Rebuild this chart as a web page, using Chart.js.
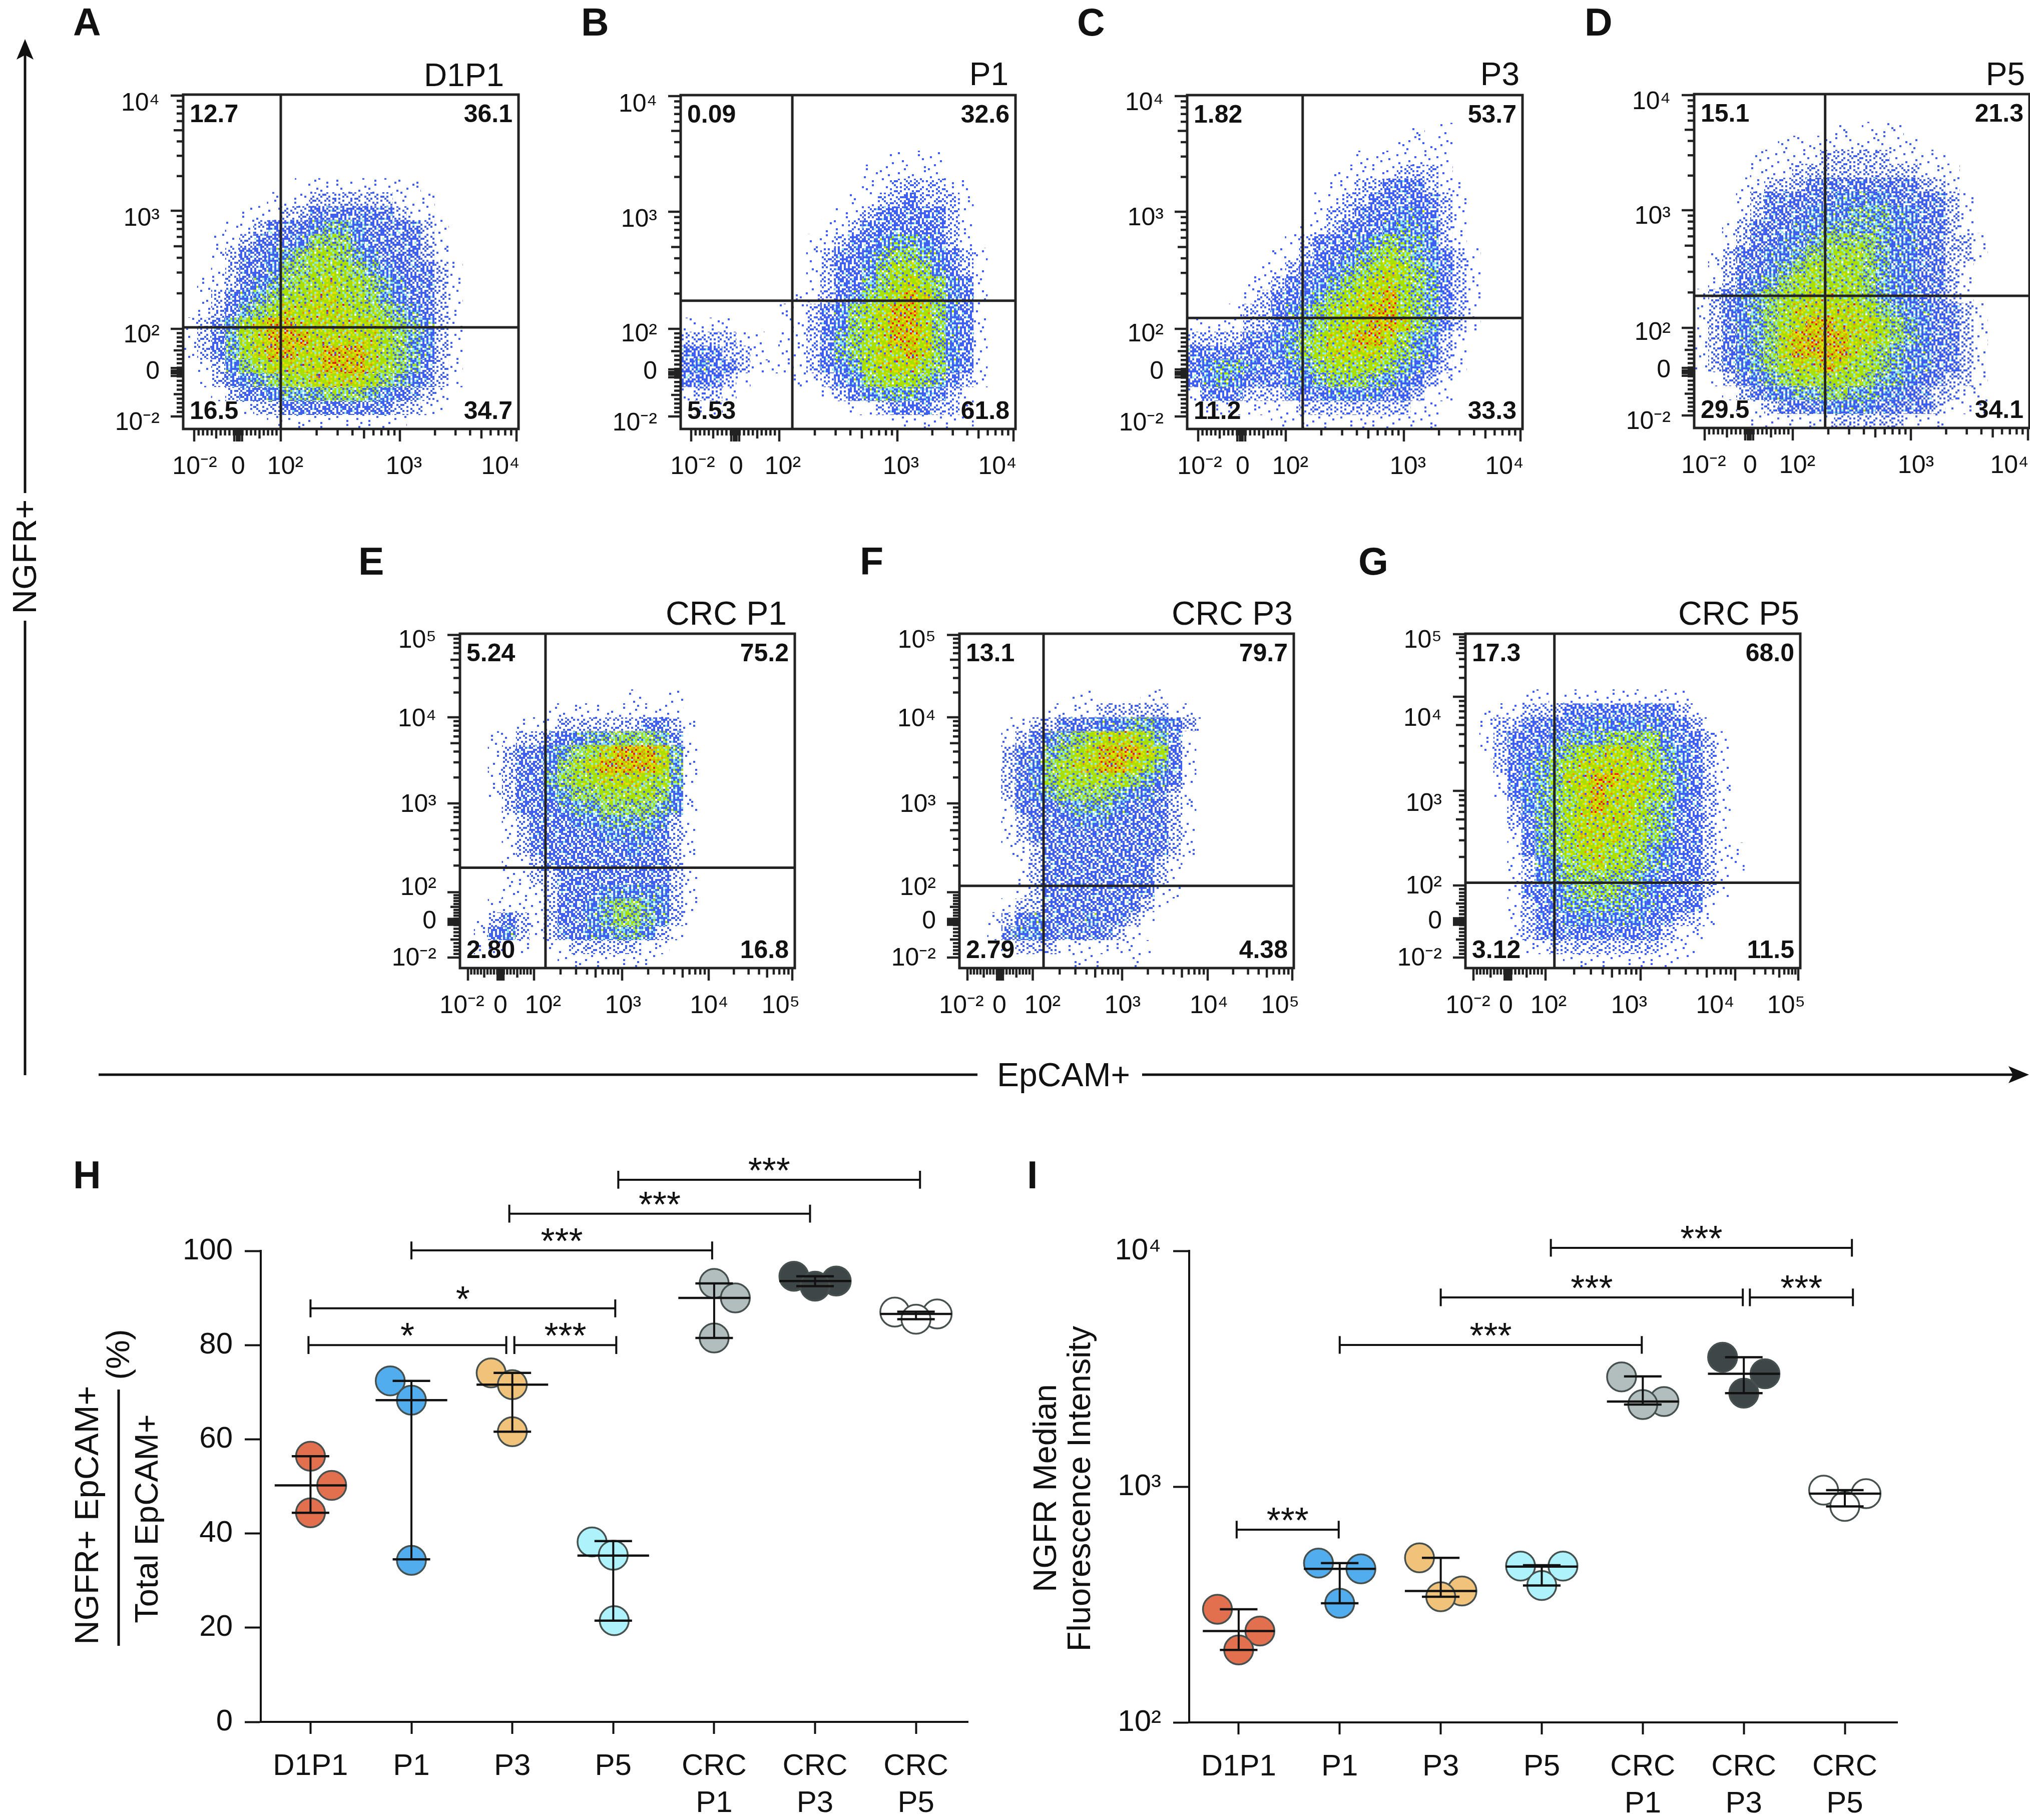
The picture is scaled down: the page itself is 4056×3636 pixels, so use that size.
<!DOCTYPE html>
<html>
<head>
<meta charset="utf-8">
<title>NGFR and EpCAM flow panels</title>
<script src="https://cdn.jsdelivr.net/npm/chart.js@4"></script>
<style>
html, body { margin: 0; background: #fff; width: 4056px; height: 3636px; overflow: hidden; }
canvas { position: absolute; }
svg { position: absolute; left: 0; top: 0; z-index: 5; font-family: "Liberation Sans", Arial, sans-serif; fill: #111; }
</style>
</head>
<body>
<svg id="notes" width="4056" height="3636"></svg>
<script>
// ---- flow panels: names, quadrant percentages (UL, UR, LL, LR), gates
const flowLetters = ["A", "B", "C", "D", "E", "F", "G"];
const flowTitles = ["D1P1", "P1", "P3", "P5", "CRC P1", "CRC P3", "CRC P5"];
const quadA = ["12.7", "36.1", "16.5", "34.7"];
const quadB = ["0.09", "32.6", "5.53", "61.8"];
const quadC = ["1.82", "53.7", "11.2", "33.3"];
const quadD = ["15.1", "21.3", "29.5", "34.1"];
const quadE = ["5.24", "75.2", "2.80", "16.8"];
const quadF = ["13.1", "79.7", "2.79", "4.38"];
const quadG = ["17.3", "68.0", "3.12", "11.5"];
const gateX = [100, 129, 139, 188, 135, 132, 124];
const gateY = [103, 174, 124, 187, 189, 118, 107];
const tickLabels4 = ["10⁻²", "0", "10²", "10³", "10⁴"];
const tickLabels5 = ["10⁻²", "0", "10²", "10³", "10⁴", "10⁵"];

// event density, 24 x 24 bins, top row first, 0 = empty, 9 = hottest
const densityA = ["", "", "", "", "", "",
  "000000001111111110000000", "000000111222222111000000", "000011122333333211000000",
  "000112333455433332100000", "001123334666433332100000", "001233456776543332100000",
  "001233466777654333210000", "011234567787765433210000", "012345677887765433210000",
  "012356788888776543210000", "123578998888887654210000", "123578999888887654210000",
  "123578998899987654210000", "012467888899987653210000", "012345677888876543210000",
  "001233455566654332100000", "000012233333333221100000", "000000111111111100000000"];
const densityB = ["", "", "", "",
  "000000000000000101100000", "000000000000011111100000", "000000000000011222211000",
  "000000000000112232221000", "000000000001123333321000", "000000000011233333321000",
  "000000000112334554321000", "000000000123345665432100", "000000000123346776432100",
  "000000000123356787643100", "000000001123467898643100", "000000011234678998643100",
  "111100011234678998643100", "222211011235678998643100", "333221011235678898643100",
  "343321111234578887643100", "333210001123467776532100", "122100000012345554321000",
  "011000000000112333221000", "000000000000000111111000"];
const densityC = ["", "",
  "000000000000000010100000", "000000000000000111100000", "000000000000111111100000",
  "000000000011111222100000", "000000000011223332110000", "000000000112233333210000",
  "000000000122333443210000", "000000001123334544210000", "000000012333456554210000",
  "000000112334567654321000", "000001123345678765321000", "000011233456788765321000",
  "000012334567889765321000", "000122345678899765321000", "111122345678899865321000",
  "222233456788998654210000", "333333456788887654210000", "345543345677776543210000",
  "345433344566655432100000", "133322233344443321100000", "011111112222222211000000",
  "000000111111111111000000"];
const densityD = ["", "",
  "000000000010111000000000", "000000111111111100000000", "000011111222221111000000",
  "000011122222222211100000", "000112223333333322100000", "000123333344443333210000",
  "000123334445554433210000", "001233344555554433210000", "001233445666654433221000",
  "012334456677654433221000", "012334567777654433210000", "012345677777654433210000",
  "123456778877654433210000", "123456788888765443321000", "123456789988876543321000",
  "123456899998876543321000", "123456899998765443321000", "123456788987765443321000",
  "012345677777655433221000", "001234455665544332211000", "000112333444433332111000",
  "000011111122222111000000"];
const densityE = ["", "", "", "",
  "000000000000100100000000", "000000111111111100000000", "000011122222233210000000",
  "001122334556665310000000", "001233456789998510000000", "001233467899998510000000",
  "001233567788877510000000", "001233456677776410000000", "000233345566665410000000",
  "000123334455554210000000", "000123333344443210000000", "000123333333433210000000",
  "000112333333333210000000", "000112233333333210000000", "000111233344444210000000",
  "001111233456654210000000", "012321233456654210000000", "013421233445542100000000",
  "011110112222211000000000", "000000011111110000000000"];
const densityF = ["", "", "", "",
  "000000001100011000000000", "000000111122222110000000", "000112233344554321000000",
  "000123456788875310000000", "000233567899987310000000", "000234678899875310000000",
  "000234677777654310000000", "000234566665443210000000", "000133345554333210000000",
  "000123334443333210000000", "000123333333333210000000", "000112333333333210000000",
  "000012333333332100000000", "000012333333332100000000", "000012333333331100000000",
  "000122333333321000000000", "001234333433210000000000", "001344333332100000000000",
  "000122211111110000000000", "000000001100100000000000"];
const densityG = ["", "", "", "",
  "000011011111111100000000", "011122233333333210000000", "012233334444443321000000",
  "012333455566664332100000", "012334567788765432100000", "002345678888875432100000",
  "001345688998876432100000", "001345678988876432100000", "000245678988765332100000",
  "000235678888765332100000", "000135678887765332100000", "000135678877654332110000",
  "000124567877654332110000", "000124566666543332100000", "000133456665543332100000",
  "000123455555443331000000", "000123344444433221000000", "000123333333332110000000",
  "000011222222221110000000", "000000011111111100000000"];

// ---- panels H and I
const groups = [["D1P1"], ["P1"], ["P3"], ["P5"], ["CRC", "P1"], ["CRC", "P3"], ["CRC", "P5"]];
const groupFill = ["#e2704e", "#52adee", "#f0c27a", "#aef2fc", "#b2bdbd", "#3e4647", "#ffffff"];

const hSwarm = [[0.0, 0.21, 0.0], [-0.21, 0.0, 0.0], [-0.21, 0.0, 0.0], [-0.21, 0.0, 0.01], [0.0, 0.21, 0.0], [-0.21, 0.21, 0.0], [-0.21, 0.21, 0.0]];
const hValues = [[56.4, 50.2, 44.4], [72.4, 68.3, 34.3], [74.1, 71.6, 61.6], [38.2, 35.4, 21.5], [93.1, 90.0, 81.5], [94.6, 93.6, 92.5], [87.0, 86.6, 85.5]];
const hMedian = [50.2, 68.3, 71.6, 35.3, 90.0, 93.6, 86.6];
const hHigh = [56.4, 72.4, 74.1, 38.4, 93.1, 94.6, 87.1];
const hLow = [44.4, 34.5, 61.6, 21.5, 81.5, 92.5, 85.5];
const hBracketFrom = [3.05, 1.97, 1.0, 0.0, -0.02, 2.02];
const hBracketTo = [6.04, 4.95, 3.98, 3.02, 1.94, 3.03];
const hBracketY = [115.1, 107.9, 100.1, 87.8, 80.0, 80.0];
const hBracketStars = ["***", "***", "***", "*", "*", "***"];
const hTicks = [0, 20, 40, 60, 80, 100];

const iSwarm = [[-0.21, 0.21, 0.0], [-0.21, 0.21, 0.0], [-0.21, 0.21, 0.0], [-0.21, 0.21, 0.0], [-0.21, 0.21, 0.0], [-0.21, 0.21, 0.0], [-0.21, 0.21, 0.0]];
const iValues = [[302, 244, 203], [474, 448, 320], [499, 361, 341], [460, 460, 381], [2922, 2296, 2229], [3540, 3010, 2492], [966, 934, 824]];
const iMedian = [244, 448, 361, 458, 2296, 3010, 934];
const iHigh = [302, 474, 499, 464, 2934, 3540, 966];
const iLow = [203, 320, 341, 381, 2229, 2492, 824];
const iBracketFrom = [3.09, 2.0, 5.06, 1.0, -0.02];
const iBracketTo = [6.07, 4.99, 6.08, 3.99, 0.99];
const iBracketY = [10300, 6350, 6350, 3990, 657];
const iBracketStars = ["***", "***", "***", "***", "***"];
const iTicks = [100, 1000, 10000];
const iTickLabels = ["10²", "10³", "10⁴"];

// ---- layout, in page pixels
const flowLayout = [
  { box: [366, 189, 1036, 857], xPx: [388, 476, 561, 799, 1032], yPx: [832, 743, 657, 421, 191], xLab: [389, 476, 570, 807, 1000], yLab: [845, 743, 670, 437, 207], letterX: 146, base: 71, titleR: 1007, titleY: 172, titleSize: 64 },
  { box: [1360, 190, 2029, 857], xPx: [1381, 1469, 1557, 1793, 2025], yPx: [832, 746, 657, 423, 192], xLab: [1384, 1471, 1564, 1800, 1993], yLab: [846, 743, 668, 439, 209], letterX: 1161, base: 71, titleR: 2015, titleY: 170, titleSize: 64 },
  { box: [2372, 190, 3042, 857], xPx: [2394, 2480, 2569, 2805, 3038], yPx: [832, 746, 657, 423, 192], xLab: [2397, 2483, 2578, 2813, 3006], yLab: [846, 743, 668, 436, 206], letterX: 2152, base: 71, titleR: 3036, titleY: 170, titleSize: 64 },
  { box: [3385, 188, 4055, 855], xPx: [3406, 3495, 3582, 3818, 4052], yPx: [830, 743, 655, 420, 190], xLab: [3404, 3497, 3591, 3828, 4015], yLab: [843, 740, 665, 433, 204], letterX: 3166, base: 71, titleR: 4046, titleY: 170, titleSize: 64 },
  { box: [919, 1266, 1588, 1934], xPx: [935, 1000, 1067, 1243, 1416, 1583], yPx: [1913, 1841, 1782.6, 1605, 1433, 1268.5], xLab: [923, 1000, 1085, 1245, 1417, 1560], yLab: [1915, 1841, 1774, 1608, 1437.5, 1280], letterX: 716, base: 1148, titleR: 1572, titleY: 1248, titleSize: 66 },
  { box: [1917, 1266, 2585, 1934], xPx: [1933, 1998, 2063.5, 2242, 2413, 2582], yPx: [1913, 1841, 1782.6, 1605, 1433, 1268.5], xLab: [1921, 1997, 2083, 2243, 2415.5, 2558], yLab: [1915, 1841, 1774, 1608, 1437.5, 1280], letterX: 1718, base: 1148, titleR: 2583, titleY: 1248, titleSize: 66 },
  { box: [2928, 1266, 3597, 1934], xPx: [2944, 3012.5, 3088, 3278, 3467, 3593], yPx: [1913, 1841, 1769, 1580, 1392, 1267], xLab: [2933, 3009, 3094, 3255, 3427, 3569], yLab: [1915, 1841, 1771, 1606.5, 1436, 1280], letterX: 2714, base: 1148, titleR: 3595, titleY: 1248, titleSize: 66 }
];
const FONT = '"Liberation Sans", Arial, sans-serif';
Chart.defaults.font.family = FONT;
Chart.defaults.color = "#111";
Chart.defaults.animation = false;

// speckle fill for the density bins: share of each colour per level, out of 64
const speckleColors = ["#ffffff", "#3f5ff0", "#8fe6ea", "#a8e000", "#ecdc00", "#f09000", "#e82010"];
const speckleMix = [null,
  [60, 4, 0, 0, 0, 0, 0], [46, 18, 0, 0, 0, 0, 0], [24, 37, 3, 0, 0, 0, 0], [12, 36, 14, 2, 0, 0, 0],
  [6, 26, 20, 12, 0, 0, 0], [3, 14, 17, 30, 0, 0, 0], [1, 6, 12, 40, 5, 0, 0],
  [0, 3, 7, 36, 13, 4, 1], [0, 1, 4, 24, 15, 10, 10]];
const rankTable = [
  37, 5, 58, 19, 44, 11, 62, 27, 14, 50, 30, 1, 55, 23, 40, 8,
  61, 25, 43, 16, 34, 59, 3, 47, 20, 6, 53, 38, 9, 28, 49, 13,
  41, 57, 12, 31, 63, 17, 36, 0, 26, 2, 46, 21, 7, 52, 24, 56,
  33, 60, 18, 54, 39, 4, 45, 10, 15, 42, 29, 35, 22, 48, 32, 51];

function makeSpeckle(level) {
  const dot = 4, n = 64;
  const tile = document.createElement("canvas");
  tile.width = tile.height = dot * n;
  const c = tile.getContext("2d");
  const mix = speckleMix[level];
  for (let j = 0; j < n; j++) {
    for (let i = 0; i < n; i++) {
      const row = (j + 3 * (i >> 3)) % 8, col = (i + 5 * (j >> 3)) % 8;
      let rank = rankTable[row * 8 + col], k = 0;
      while (k < mix.length - 1 && rank >= mix[k]) { rank -= mix[k]; k++; }
      c.fillStyle = speckleColors[k];
      c.fillRect(i * dot, j * dot, dot, dot);
    }
  }
  return c.createPattern(tile, "repeat");
}
const speckles = speckleMix.map((m, i) => (m ? makeSpeckle(i) : null));

// position of a value on a biexponential axis, from the axis' own decade marks
function biex(v, anchors) {
  const a = Math.abs(v);
  const t = a <= 100 ? v / 100 : Math.sign(v) * (Math.log10(a) - 1);
  const u = Math.min(t + 1, anchors.length - 1);
  const i = Math.min(Math.floor(u), anchors.length - 2);
  return anchors[i] + (anchors[i + 1] - anchors[i]) * (u - i);
}

// every tick mark of a flow axis with its length
function flowMarks(anchors) {
  const marks = [];
  anchors.forEach((_, i) => {
    const t = i - 1;
    marks.push([t <= 0 ? t * 100 : Math.pow(10, t + 1), 25]);
  });
  for (let v = 10; v < 100; v += 10) {
    const len = v === 50 ? 19 : 13;
    marks.push([v, len], [-v, len]);
  }
  marks.push([3, 25], [-3, 25], [6, 13], [-6, 13], [9, 25], [-9, 25]);
  for (let d = 2; d < anchors.length - 1; d++) {
    for (let m = 2; m < 10; m++) marks.push([m * Math.pow(10, d), m === 5 ? 19 : 13]);
  }
  return marks;
}

const flowAxes = {
  id: "flowAxes",
  afterDatasetsDraw(chart, args, opts) {
    const { ctx, chartArea: area, scales } = chart;
    ctx.save();
    ctx.strokeStyle = "#222";
    ctx.lineWidth = 5;
    ctx.strokeRect(area.left, area.top, area.right - area.left, area.bottom - area.top);
    ctx.lineWidth = 4.5;
    ctx.beginPath();
    flowMarks(opts.xPx).forEach(([v, len]) => {
      const px = scales.x.getPixelForValue(biex(v, opts.xPx));
      ctx.moveTo(px, area.bottom);
      ctx.lineTo(px, area.bottom + len);
    });
    flowMarks(opts.yPx).forEach(([v, len]) => {
      const py = scales.y.getPixelForValue(biex(v, opts.yPx));
      ctx.moveTo(area.left, py);
      ctx.lineTo(area.left - len, py);
    });
    ctx.stroke();
    ctx.restore();
  }
};

function addCanvas(left, top, width, height) {
  const cv = document.createElement("canvas");
  cv.width = width;
  cv.height = height;
  cv.style.left = left + "px";
  cv.style.top = top + "px";
  document.body.appendChild(cv);
  return cv;
}

function drawFlowPanel(n, density) {
  const lay = flowLayout[n];
  const [x0, y0, x1, y1] = lay.box;
  // tick padding counts as layout padding in Chart.js, so the top margin has to stay above it
  const L = 210, T = 110, R = 110, B = 140;
  const cv = addCanvas(x0 - L, y0 - T, x1 - x0 + L + R, y1 - y0 + T + B);
  const cw = (x1 - x0) / 24, ch = (y1 - y0) / 24;
  const labels = lay.xPx.length === 6 ? tickLabels5 : tickLabels4;

  const cells = Array.from({ length: 10 }, () => []);
  density.forEach((row, r) => {
    [...row].forEach((d, c) => {
      if (d !== "0") cells[+d].push({ x: x0 + (c + 0.5) * cw, y: y0 + (r + 0.5) * ch });
    });
  });
  const datasets = [];
  const gx = biex(gateX[n], lay.xPx), gy = biex(gateY[n], lay.yPx);
  datasets.push({ data: [{ x: gx, y: y0 }, { x: gx, y: y1 }], showLine: true, pointRadius: 0, borderColor: "#222", borderWidth: 5, order: 1 });
  datasets.push({ data: [{ x: x0, y: gy }, { x: x1, y: gy }], showLine: true, pointRadius: 0, borderColor: "#222", borderWidth: 5, order: 1 });
  cells.forEach((data, level) => {
    if (data.length) {
      datasets.push({
        data, order: 10, pointStyle: "rect", pointRadius: cw * Math.SQRT1_2 + 0.2,
        pointBackgroundColor: speckles[level], pointBorderWidth: 0
      });
    }
  });

  new Chart(cv, {
    type: "scatter",
    data: { datasets },
    plugins: [flowAxes],
    options: {
      responsive: false,
      events: [],
      layout: { padding: { left: 0, top: T, right: R, bottom: 0 } },
      plugins: { legend: { display: false }, tooltip: { enabled: false }, flowAxes: { xPx: lay.xPx, yPx: lay.yPx } },
      scales: {
        x: {
          type: "linear", min: x0, max: x1,
          grid: { display: false, drawTicks: false }, border: { display: false },
          afterBuildTicks: (s) => { s.ticks = lay.xLab.map((value) => ({ value })); },
          afterFit: (s) => { s.height = B; },
          ticks: { autoSkip: false, maxRotation: 0, padding: 46, font: { size: 50 }, color: "#111", callback: (v, i) => labels[i] }
        },
        y: {
          type: "linear", min: y0, max: y1, reverse: true,
          grid: { display: false, drawTicks: false }, border: { display: false },
          afterBuildTicks: (s) => { s.ticks = lay.yLab.map((value) => ({ value })).reverse(); },
          afterFit: (s) => { s.width = L; },
          ticks: { autoSkip: false, padding: 47, font: { size: 50 }, color: "#111", callback: (v, i) => labels[labels.length - 1 - i] }
        }
      }
    }
  });
}

[densityA, densityB, densityC, densityD, densityE, densityF, densityG].forEach((d, n) => drawFlowPanel(n, d));

// stars above the brackets, placed with the chart's scales
const starLabels = {
  id: "starLabels",
  afterDatasetsDraw(chart, args, opts) {
    const { ctx, scales } = chart;
    ctx.save();
    ctx.font = "72px " + FONT;
    ctx.fillStyle = "#111";
    ctx.textAlign = "center";
    opts.stars.forEach((s, i) => {
      const mid = (opts.from[i] + opts.to[i]) / 2;
      ctx.fillText(s, scales.x.getPixelForValue(mid), scales.y.getPixelForValue(opts.y[i]) + 6);
    });
    ctx.restore();
  }
};

function line(points, width) {
  return { data: points, showLine: true, pointRadius: 0, borderColor: "#111", borderWidth: width, clip: false, order: 1 };
}

function drawDotPanel(cfg) {
  const { area, L, T, R, B } = cfg;
  const cv = addCanvas(area[0] - L, area[1] - T, area[2] - area[0] + L + R, area[3] - area[1] + T + B);
  const datasets = [];
  // median and range bars on top of the circles
  groups.forEach((g, i) => {
    datasets.push(line([{ x: i, y: cfg.low[i] }, { x: i, y: cfg.high[i] }], 4));
    datasets.push(line([{ x: i - 0.355, y: cfg.median[i] }, { x: i + 0.355, y: cfg.median[i] }], 4.5));
    datasets.push(line([{ x: i - 0.186, y: cfg.high[i] }, { x: i + 0.186, y: cfg.high[i] }], 4.5));
    datasets.push(line([{ x: i - 0.186, y: cfg.low[i] }, { x: i + 0.186, y: cfg.low[i] }], 4.5));
  });
  cfg.from.forEach((f, i) => {
    const y = cfg.bracketY[i], t = cfg.to[i];
    datasets.push(line([
      { x: f, y: cfg.tipDown(y) }, { x: f, y: cfg.tipUp(y) }, { x: f, y }, { x: t, y },
      { x: t, y: cfg.tipUp(y) }, { x: t, y: cfg.tipDown(y) }
    ], 4));
  });
  groups.forEach((g, i) => {
    datasets.push({
      data: cfg.values[i].map((y, k) => ({ x: i + cfg.swarm[i][k], y })),
      pointRadius: 29, pointBackgroundColor: groupFill[i], pointBorderColor: "#46504f", pointBorderWidth: 3.5,
      clip: false, order: 5
    });
  });

  new Chart(cv, {
    type: "scatter",
    data: { datasets },
    plugins: [starLabels],
    options: {
      responsive: false,
      events: [],
      layout: { padding: { left: 0, top: T, right: R, bottom: 0 } },
      plugins: { legend: { display: false }, tooltip: { enabled: false }, starLabels: { stars: cfg.stars, from: cfg.from, to: cfg.to, y: cfg.bracketY } },
      scales: {
        x: {
          type: "linear", min: cfg.xMin, max: cfg.xMax,
          grid: { drawOnChartArea: false, tickLength: 24, tickWidth: 4, tickColor: "#111" },
          border: { color: "#111", width: 4 },
          afterBuildTicks: (s) => { s.ticks = groups.map((g, value) => ({ value })); },
          afterFit: (s) => { s.height = B; },
          ticks: { autoSkip: false, maxRotation: 0, padding: 29, font: { size: 60, lineHeight: 1.23 }, color: "#111", callback: (v, i) => groups[i] }
        },
        y: {
          type: cfg.yType, min: cfg.yMin, max: cfg.yMax,
          grid: { drawOnChartArea: false, tickLength: 32, tickWidth: 4, tickColor: "#111" },
          border: { color: "#111", width: 4 },
          afterBuildTicks: (s) => { s.ticks = cfg.yTicks.map((value) => ({ value })); },
          afterFit: (s) => { s.width = L; },
          ticks: { autoSkip: false, padding: 24, font: { size: 60 }, color: "#111", callback: (v, i) => cfg.yLabels[i] }
        }
      }
    }
  });
}

drawDotPanel({
  area: [520.6, 2498.7, 1934, 3440.3], L: 190, T: 218, R: 60, B: 195,
  xMin: -0.493, xMax: 6.515, yType: "linear", yMin: 0, yMax: 100,
  yTicks: hTicks, yLabels: hTicks.map(String),
  values: hValues, swarm: hSwarm, median: hMedian, high: hHigh, low: hLow,
  from: hBracketFrom, to: hBracketTo, bracketY: hBracketY, stars: hBracketStars,
  tipUp: (y) => y + 1.9, tipDown: (y) => y - 1.9
});
drawDotPanel({
  area: [2376, 2498.7, 3791, 3441], L: 190, T: 218, R: 60, B: 195,
  xMin: -0.49, xMax: 6.52, yType: "logarithmic", yMin: 100, yMax: 10000,
  yTicks: iTicks, yLabels: iTickLabels,
  values: iValues, swarm: iSwarm, median: iMedian, high: iHigh, low: iLow,
  from: iBracketFrom, to: iBracketTo, bracketY: iBracketY, stars: iBracketStars,
  tipUp: (y) => y * 1.09, tipDown: (y) => y / 1.09
});

// ---- text and arrows around the charts
let svg = "";
function text(s, x, y, size, opts = {}) {
  const rot = opts.rot ? ` transform="rotate(${opts.rot} ${x} ${y})"` : "";
  svg += `<text x="${x}" y="${y}" font-size="${size}" text-anchor="${opts.anchor || "start"}" font-weight="${opts.weight || "normal"}"${rot}>${s}</text>`;
}
const quads = [quadA, quadB, quadC, quadD, quadE, quadF, quadG];
flowLayout.forEach((lay, n) => {
  const [x0, y0, x1, y1] = lay.box;
  text(flowLetters[n], lay.letterX, lay.base, 77, { weight: "bold" });
  text(flowTitles[n], lay.titleR, lay.titleY, lay.titleSize, { anchor: "end" });
  text(quads[n][0], x0 + 13, y0 + 55, 50, { weight: "bold" });
  text(quads[n][1], x1 - 12, y0 + 55, 50, { weight: "bold", anchor: "end" });
  text(quads[n][2], x0 + 13, y1 - 20, 50, { weight: "bold" });
  text(quads[n][3], x1 - 12, y1 - 20, 50, { weight: "bold", anchor: "end" });
});
text("H", 146, 2374, 77, { weight: "bold" });
text("I", 2052, 2374, 77, { weight: "bold" });
text("NGFR+", 72, 1112, 67, { rot: -90, anchor: "middle" });
text("EpCAM+", 2125, 2170, 66, { anchor: "middle" });
text("NGFR+ EpCAM+", 196, 3027, 67, { rot: -90, anchor: "middle" });
text("(%)", 258, 2706, 65, { rot: -90, anchor: "middle" });
text("Total EpCAM+", 315, 3034, 65, { rot: -90, anchor: "middle" });
text("NGFR Median", 2110, 2973, 65, { rot: -90, anchor: "middle" });
text("Fluorescence Intensity", 2178, 2974, 65, { rot: -90, anchor: "middle" });
svg += `<path d="M237 2776V3288M50 105V985M50 1240V2148M197 2147H1953M2282 2147H4030" stroke="#111" stroke-width="5" fill="none"/>`;
svg += `<path d="M50 78L33 119L50 110L67 119Z M4054 2147L4013 2130L4022 2147L4013 2164Z" fill="#111"/>`;
document.getElementById("notes").innerHTML = svg;
</script>
</body>
</html>
